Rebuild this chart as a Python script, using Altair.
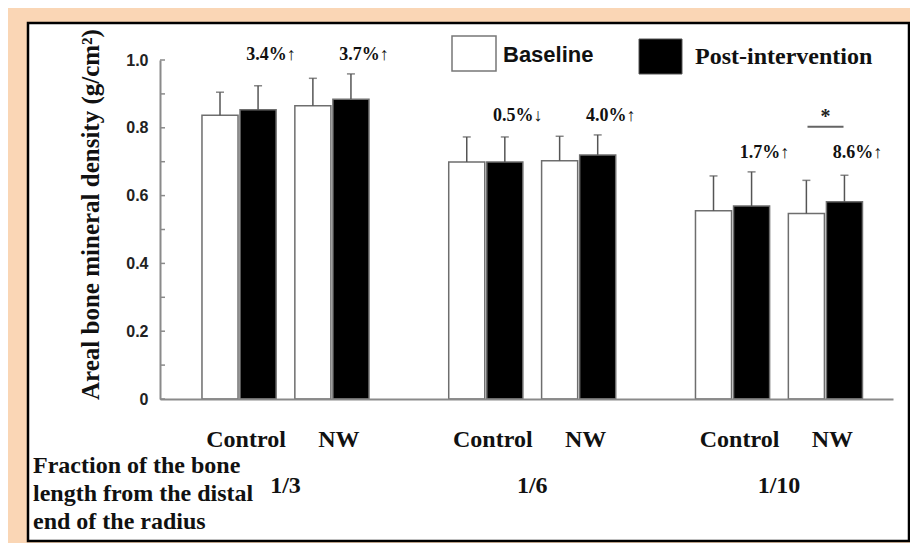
import altair as alt
import pandas as pd

# ---- data ----
sites = ["1/3", "1/6", "1/10"]
groups = ["Control", "NW"]
times = ["Baseline", "Post-intervention"]
# order: (1/3,Control), (1/3,NW), (1/6,Control), (1/6,NW), (1/10,Control), (1/10,NW)
baseline_mean = [0.837, 0.865, 0.699, 0.703, 0.555, 0.547]
baseline_sd = [0.068, 0.081, 0.074, 0.072, 0.103, 0.098]
post_mean = [0.853, 0.884, 0.699, 0.720, 0.569, 0.582]
post_sd = [0.071, 0.075, 0.074, 0.059, 0.101, 0.078]
change_labels = ["3.4%↑", "3.7%↑", "0.5%↓", "4.0%↑", "1.7%↑", "8.6%↑"]
sig_site = ["1/10"]
sig_group = ["NW"]
sig_mark = ["*"]
y_ticks = [0.0, 0.1, 0.2, 0.3, 0.4, 0.5, 0.6, 0.7, 0.8, 0.9, 1.0]
side_note = ["Fraction of the bone", "length from the distal", "end of the radius"]
y_title = "Areal bone mineral density (g/cm²)"

W, H = 733, 339
SERIF = "Liberation Serif"
SANS = "Liberation Sans"
PEACH = "#FAD6B5"

# ---- tables ----
rows, ann = [], []
k = 0
for s in sites:
    for g in groups:
        for t, m, sd in ((times[0], baseline_mean[k], baseline_sd[k]), (times[1], post_mean[k], post_sd[k])):
            rows.append(dict(site=s, group=g, time=t, slot=g + "|" + t, mean=m, upper=m + sd))
        ann.append(dict(site=s, group=g, slot=g + "|" + times[1], label=change_labels[k]))
        k += 1
df = pd.DataFrame(rows)
top = df.groupby("site")["upper"].max()
ann_df = pd.DataFrame(ann)
ann_df["top"] = ann_df["site"].map(top)
sig_df = pd.DataFrame(dict(site=sig_site, group=sig_group, mark=sig_mark))
sig_df["top"] = sig_df["site"].map(top)
tick_df = pd.DataFrame(dict(v=y_ticks))

# site bands; inside each band, the Control pair is packed left and the NW pair right
xscale = alt.Scale(type="band", domain=sites, paddingInner=0.3232, paddingOuter=0.1469, align=0.579)
off_domains = {
    "Control": ["Control|" + times[0], "Control|" + times[1], "Control|gap"],
    "NW": ["NW|gap", "NW|" + times[0], "NW|" + times[1]],
}
offscales = {
    g: alt.Scale(type="band", domain=off_domains[g], paddingInner=0.0526, paddingOuter=0.72,
                 align=(0 if g == "Control" else 1))
    for g in groups
}
sig_domain = ["_a", "_b", "_c"] + sig_group
sigscale = alt.Scale(type="band", domain=sig_domain, paddingInner=0, paddingOuter=0.319, align=0.174)
yscale = alt.Scale(domain=[0, 1], nice=False, zero=True)

xaxis = alt.Axis(title=None, ticks=False, labelAngle=0, labelFont=SERIF, labelFontWeight="bold",
                 labelFontSize=24, labelColor="#111", labelPadding=93, labelBaseline="alphabetic",
                 domainColor="#8a8a8a", domainWidth=2, zindex=1)
yaxis = alt.Axis(title=y_title, values=y_ticks, ticks=False, grid=False, zindex=1,
                 labelExpr="datum.value == 0 ? '0' : (round(datum.value*10) % 2 == 0 ? format(datum.value, '.1f') : '')",
                 labelFont=SANS, labelFontWeight="bold", labelFontSize=16, labelColor="#222",
                 labelPadding=12, domainColor="#8a8a8a", domainWidth=2,
                 titleFont=SERIF, titleFontWeight="bold", titleFontSize=25, titleColor="#111",
                 titleX=-70, titleY=154, titleAngle=270, titleAlign="center", titleBaseline="middle")


def X():
    return alt.X("site:N", scale=xscale, axis=xaxis, sort=sites)


def XO(g):
    return alt.XOffset("slot:N", scale=offscales[g], sort=off_domains[g])


def Y(f):
    return alt.Y(f + ":Q", scale=yscale, axis=yaxis)


layers = []

# white panel with black border
layers.append(alt.Chart(pd.DataFrame(dict(a=[0]))).mark_rect(fill="white", stroke="black", strokeWidth=2.5).encode(
    x=alt.value(-132), x2=alt.value(749), y=alt.value(-37), y2=alt.value(481)))

for g in groups:
    base = alt.Chart(df[df.group == g])
    layers.append(base.mark_bar(stroke="#6e6e6e", strokeWidth=1.5).encode(
        x=X(), xOffset=XO(g), y=Y("mean"),
        fill=alt.Fill("time:N", scale=alt.Scale(domain=times, range=["white", "black"]), legend=None)))
    layers.append(base.mark_rule(color="#555", strokeWidth=1.5).encode(
        x=X(), xOffset=XO(g), y=Y("mean"), y2="upper:Q"))
    layers.append(base.mark_tick(color="#555", size=8, thickness=1.5).encode(
        x=X(), xOffset=XO(g), y=Y("upper")))
    a = alt.Chart(ann_df[ann_df.group == g])
    layers.append(a.mark_text(dx=13, dy=-19, font=SERIF, fontWeight="bold", fontSize=18,
                              color="#111", baseline="middle").encode(
        x=X(), xOffset=XO(g), y=Y("top"), text="label:N"))
    layers.append(a.mark_text(dx=-19 + 7, font=SERIF, fontWeight="bold", fontSize=24,
                              color="#111", baseline="alphabetic").encode(
        x=X(), xOffset=XO(g), y=alt.value(H + 48), text="group:N"))

# significance bracket
sg = alt.Chart(sig_df)
SXO = alt.XOffset("group:N", scale=sigscale, sort=sig_domain)
layers.append(sg.mark_tick(yOffset=-45, color="#222", size=36, thickness=2).encode(
    x=X(), xOffset=SXO, y=Y("top")))
layers.append(sg.mark_text(dy=-55, font=SERIF, fontWeight="bold", fontSize=20,
                           color="#222", baseline="middle").encode(
    x=X(), xOffset=SXO, y=Y("top"), text="mark:N"))

# inward y ticks
layers.append(alt.Chart(tick_df).mark_rule(color="#8a8a8a", strokeWidth=1.5).encode(
    x=alt.value(0), x2=alt.value(5), y=Y("v")))

# side note
layers.append(alt.Chart(pd.DataFrame(dict(a=[0]))).mark_text(
    align="left", baseline="alphabetic", font=SERIF, fontWeight="bold", fontSize=24, lineHeight=28,
    color="#111").encode(x=alt.value(-127), y=alt.value(H + 74), text=alt.value(side_note)))

# legend
leg = alt.Chart(pd.DataFrame(dict(label=times)))
layers.append(leg.transform_filter(alt.datum.label == times[0]).mark_rect(
    fill="white", stroke="#777", strokeWidth=1.5).encode(
    x=alt.value(292), x2=alt.value(336), y=alt.value(-24), y2=alt.value(11)))
layers.append(leg.transform_filter(alt.datum.label == times[0]).mark_text(
    align="left", baseline="middle", font=SANS, fontWeight="bold", fontSize=22, color="#111").encode(
    x=alt.value(343), y=alt.value(-5), text="label:N"))
layers.append(leg.transform_filter(alt.datum.label == times[1]).mark_rect(
    fill="black", stroke="#555", strokeWidth=1).encode(
    x=alt.value(479), x2=alt.value(522), y=alt.value(-21), y2=alt.value(14)))
layers.append(leg.transform_filter(alt.datum.label == times[1]).mark_text(
    align="left", baseline="middle", font=SERIF, fontWeight="bold", fontSize=24, color="#111").encode(
    x=alt.value(535), y=alt.value(-3), text="label:N"))

chart = alt.layer(*layers).resolve_scale(xOffset="independent").properties(
    width=W, height=H, autosize="none", background=PEACH,
    padding={"left": 152, "top": 52, "right": 17, "bottom": 144},
).configure_view(stroke=None)

chart.save("out.html", embed_options={"renderer": "svg", "actions": False})
